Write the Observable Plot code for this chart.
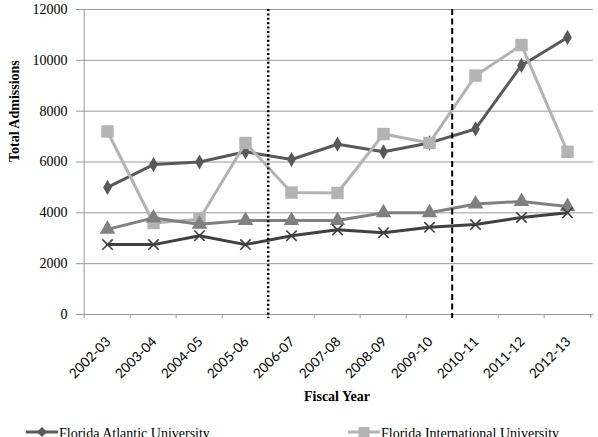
<!DOCTYPE html>
<html><head><meta charset="utf-8">
<script src="https://cdn.jsdelivr.net/npm/d3@7"></script>
<script src="https://cdn.jsdelivr.net/npm/@observablehq/plot@0.6"></script>
<style>
html,body{margin:0;padding:0;background:#fff;overflow:hidden;}
#chart svg{display:block;}
#legend{position:relative;height:18px;font-family:"Liberation Serif","Times New Roman",serif;font-size:14px;color:#000;margin-top:4px;}
.item{position:absolute;top:0;display:flex;align-items:center;height:16px;line-height:16px;white-space:nowrap;}
.item svg{display:block;margin-right:1px;}
</style></head><body>
<div id="chart"></div>
<div id="legend"></div>
<script>
const fiscalYears = ["2002-03","2003-04","2004-05","2005-06","2006-07","2007-08","2008-09","2009-10","2010-11","2011-12","2012-13"];
const fauAdmissions = [5000, 5900, 6000, 6400, 6100, 6700, 6400, 6750, 7300, 9800, 10900];
const fiuAdmissions = [7200, 3600, 3750, 6750, 4800, 4780, 7100, 6750, 9400, 10600, 6400];
const triangleSeries = [3350, 3800, 3550, 3700, 3700, 3700, 4000, 4000, 4350, 4450, 4250];
const crossSeries = [2750, 2750, 3100, 2750, 3100, 3330, 3220, 3430, 3540, 3820, 4000];
const yTicks = [0, 2000, 4000, 6000, 8000, 10000, 12000];
const periodBreaks = ["2006-07", "2010-11"];
const legendNames = ["Florida Atlantic University", "Florida International University"];

const W = 598, H = 422, mL = 80, mR = 5, mT = 9, mB = 108;
const step = (W - mL - mR) / fiscalYears.length;

const series = [
  {values: fauAdmissions, color: "#595959", symbol: "diamond", r: 4.6, filled: true},
  {values: fiuAdmissions, color: "#b3b3b3", symbol: "square", r: 7, filled: true},
  {values: triangleSeries, color: "#808080", symbol: "triangle", r: 5.8, filled: true},
  {values: crossSeries, color: "#404040", symbol: "times", r: 4.8, filled: false}
];

const marks = [
  Plot.gridY(yTicks, {stroke: "#9a9a9a", strokeOpacity: 1, strokeWidth: 1}),
  Plot.ruleX([fiscalYears[0]], {dx: -step / 2, stroke: "#9a9a9a"}),
  Plot.ruleX(fiscalYears, {dx: -step / 2, stroke: "#9a9a9a", insetTop: H - mT - mB, insetBottom: -4}),
  Plot.ruleX([fiscalYears[fiscalYears.length - 1]], {dx: step / 2, stroke: "#9a9a9a", insetTop: H - mT - mB, insetBottom: -4}),
  Plot.axisY(yTicks, {tickSize: 4, tickPadding: 9, stroke: "#9a9a9a", fill: "#000", tickFormat: d => String(d), fontFamily: "Liberation Serif", fontSize: 14, label: null})
];
for (const s of series) {
  const rows = fiscalYears.map((y, i) => ({year: y, value: s.values[i]}));
  marks.push(Plot.line(rows, {x: "year", y: "value", stroke: s.color, strokeWidth: 3}));
  if (s.filled) marks.push(Plot.dot(rows, {x: "year", y: "value", symbol: s.symbol, r: s.r, fill: s.color, stroke: "none"}));
  else marks.push(Plot.dot(rows, {x: "year", y: "value", symbol: s.symbol, r: s.r, stroke: s.color, strokeWidth: 1.6, fill: "none"}));
}
marks.push(
  Plot.ruleX([periodBreaks[0]], {dx: -step / 2, stroke: "#000", strokeWidth: 2.5, strokeDasharray: "2,2.4", insetBottom: -4}),
  Plot.ruleX([periodBreaks[1]], {dx: -step / 2, stroke: "#000", strokeWidth: 2, strokeDasharray: "6,3.5", insetBottom: -4}),
  Plot.text(fiscalYears, {x: d => d, frameAnchor: "bottom", rotate: -45, textAnchor: "end", lineAnchor: "middle", dx: 1, dy: 25, fontFamily: "Lato", fontSize: 13.5, fill: "#000"}),
  Plot.text(["Fiscal Year"], {frameAnchor: "bottom", dy: 86, fontFamily: "Liberation Serif", fontWeight: "bold", fontSize: 14, fill: "#000"}),
  Plot.text(["Total Admissions"], {frameAnchor: "left", rotate: -90, dx: -66, fontFamily: "Liberation Serif", fontWeight: "bold", fontSize: 14, fill: "#000"})
);

const chart = Plot.plot({
  width: W, height: H,
  marginLeft: mL, marginRight: mR, marginTop: mT, marginBottom: mB,
  x: {type: "point", domain: fiscalYears, padding: 0.5, axis: null},
  y: {domain: [0, 12000], axis: null},
  style: {background: "#fff", fontFamily: "Liberation Serif", fontSize: "14px", color: "#000"},
  marks
});
document.getElementById("chart").appendChild(chart);

const legend = document.getElementById("legend");
const legendLeft = [26, 348];
series.slice(0, legendNames.length).forEach((s, i) => {
  const item = document.createElement("div");
  item.className = "item";
  item.style.left = legendLeft[i] + "px";
  const svg = d3.create("svg").attr("width", 32).attr("height", 14);
  svg.append("line").attr("x1", 0).attr("x2", 32).attr("y1", 5).attr("y2", 5).attr("stroke", s.color).attr("stroke-width", 3);
  const sym = s.symbol === "diamond" ? d3.symbolDiamond2 : d3.symbolSquare2;
  svg.append("path").attr("transform", "translate(16,5)").attr("d", d3.symbol(sym, Math.PI * s.r * s.r)()).attr("fill", s.color);
  item.appendChild(svg.node());
  const span = document.createElement("span");
  span.textContent = legendNames[i];
  item.appendChild(span);
  legend.appendChild(item);
});
</script>
</body></html>
